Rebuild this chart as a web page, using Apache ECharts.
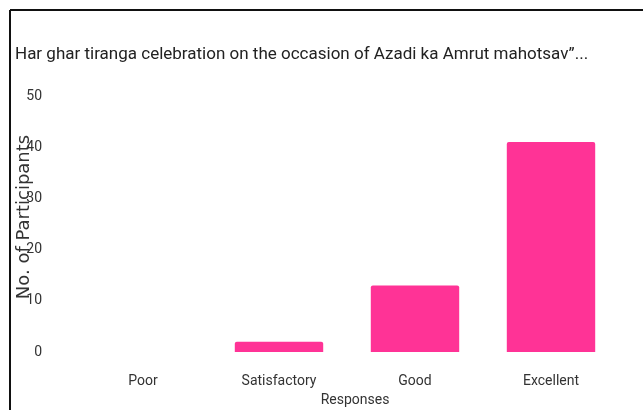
<!DOCTYPE html>
<html>
<head>
<meta charset="utf-8">
<script src="https://cdn.jsdelivr.net/npm/echarts@6/dist/echarts.min.js"></script>
<style>
 html, body { margin: 0; padding: 0; background: #fff; }
 #chart { width: 643px; height: 410px; }
</style>
</head>
<body>
<div id="chart"></div>
<script>
// Responses per rating
const categories = ['Poor', 'Satisfactory', 'Good', 'Excellent'];
const participants = [0, 2, 13, 41];
const yTicks = { min: 0, max: 50, interval: 10 };

const chart = echarts.init(document.getElementById('chart'), null, { renderer: 'canvas' });

const labelFont = 'Roboto, "Noto Sans", sans-serif';

const option = {
 backgroundColor: '#fff',
 animation: false,
 title: {
 text: 'Har ghar tiranga celebration on the occasion of Azadi ka Amrut mahotsav”...',
 left: 10,
 top: 41,
 textStyle: { fontFamily: labelFont, fontWeight: 'normal', fontSize: 17, color: '#222' },
 },
 // frame lines at top and left
 graphic: [
 { type: 'line', shape: { x1: 10, y1: 10, x2: 643, y2: 10 }, style: { stroke: '#111', lineWidth: 2 } },
 { type: 'line', shape: { x1: 10, y1: 10, x2: 10, y2: 410 }, style: { stroke: '#111', lineWidth: 2 } },
 ],
 grid: { left: 75, right: 24, top: 96, bottom: 58, outerBoundsMode: 'none', containLabel: false },
 xAxis: {
 type: 'category',
 data: categories,
 name: 'Responses',
 nameLocation: 'middle',
 nameGap: 41,
 nameMoveOverlap: false,
 nameTextStyle: { fontFamily: labelFont, fontSize: 14, color: '#333', padding: [0, 0, 0, 16] },
 axisLine: { show: false },
 axisTick: { show: false },
 axisLabel: { fontFamily: labelFont, fontSize: 14, color: '#333', margin: 22 },
 },
 yAxis: {
 type: 'value',
 min: yTicks.min,
 max: yTicks.max,
 interval: yTicks.interval,
 name: 'No. of Participants',
 nameLocation: 'middle',
 nameGap: 42,
 nameMoveOverlap: false,
 nameTextStyle: { fontFamily: '"DejaVu Sans", sans-serif', fontSize: 18, color: '#333', padding: [0, 0, 0, 14] },
 axisLine: { show: false },
 axisTick: { show: false },
 splitLine: { show: false },
 axisLabel: { fontFamily: labelFont, fontSize: 14, color: '#333', margin: 33 },
 },
 series: [{
 type: 'bar',
 data: participants,
 barWidth: '65%',
 itemStyle: { color: '#ff3396', borderRadius: [2, 2, 0, 0] },
 }],
};

chart.setOption(option);
</script>
</body>
</html>
